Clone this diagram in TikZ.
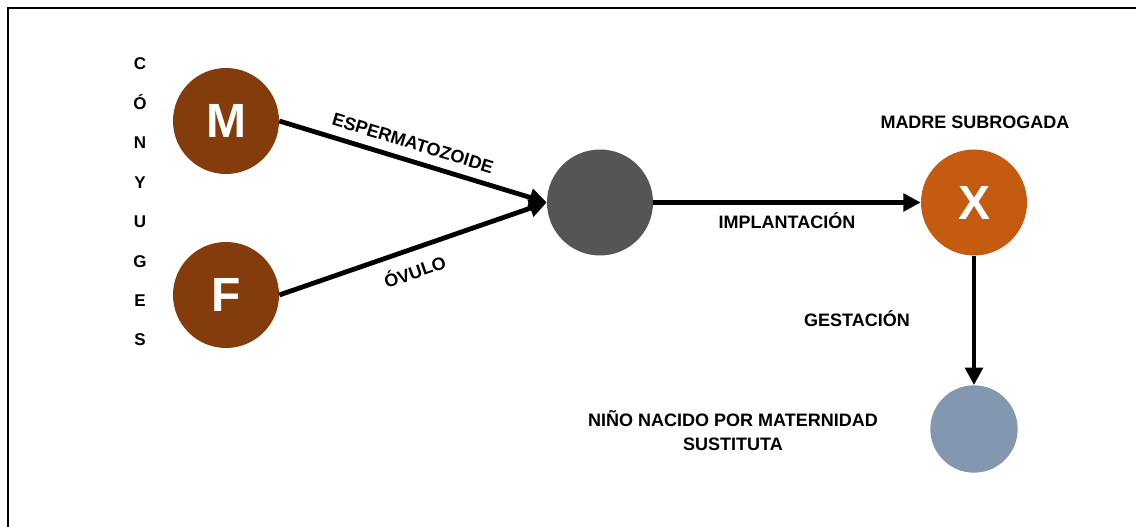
\documentclass[tikz,border=0pt]{standalone}
\usepackage{fontspec}
\setmainfont{Liberation Sans}
\usetikzlibrary{arrows.meta}
\definecolor{couple}{HTML}{843C0C}
\definecolor{surr}{HTML}{C55A11}
\definecolor{embryo}{HTML}{555555}
\definecolor{child}{HTML}{8497B0}
\begin{document}
\begin{tikzpicture}[x=0.75pt,y=-0.75pt,
  circ/.style={circle,inner sep=0pt,minimum size=79.5pt,text=white,
    font=\fontsize{36}{36}\selectfont\bfseries},
  lbl/.style={font=\fontsize{13.5}{18}\selectfont\bfseries,inner sep=0pt,
    text height=9.7pt,text depth=0pt},
  conn/.style={line width=3.6pt,-{Triangle[length=13pt,width=13pt]}}]
\useasboundingbox (0,0) rectangle (1136,527);
\draw[line width=2.2pt] (8,527) -- (8,8) -- (1136,8);

\node[circ,fill=couple] (M) at (226,121) {M};
\node[circ,fill=couple] (F) at (226,295) {F};
\node[circ,fill=embryo] (D) at (600,202.5) {};
\node[circ,fill=surr] (X) at (974,202.5) {X};
\node[circle,inner sep=0pt,minimum size=65.5pt,fill=child] (B) at (974,429) {};

\node[font=\fontsize{12.75}{29.6}\selectfont\bfseries,align=center,inner sep=0pt]
  (cony) at (140,202) {C\\Ó\\N\\Y\\U\\G\\E\\S};

\draw[conn] (M.east) -- (D.west);
\draw[conn] (F.east) -- (D.west);
\draw[conn,line width=3.2pt] (D.east) -- (X.west);
\draw[conn,line width=3.2pt] (X.south) -- (B.north);

\node[lbl,rotate=-16.9] (esp) at (413,143) {ESPERMATOZOIDE};
\node[lbl,rotate=19.2] (ovu) at (415,272) {ÓVULO};
\node[lbl] (imp) at (787,222) {IMPLANTACIÓN};
\node[lbl] (mad) at (975,122) {MADRE SUBROGADA};
\node[lbl] (ges) at (857,320) {GESTACIÓN};
\node[font=\fontsize{13.5}{18}\selectfont\bfseries,inner sep=0pt,align=center]
  (nin) at (733,431) {NIÑO NACIDO POR MATERNIDAD\\SUSTITUTA};
\end{tikzpicture}
\end{document}
